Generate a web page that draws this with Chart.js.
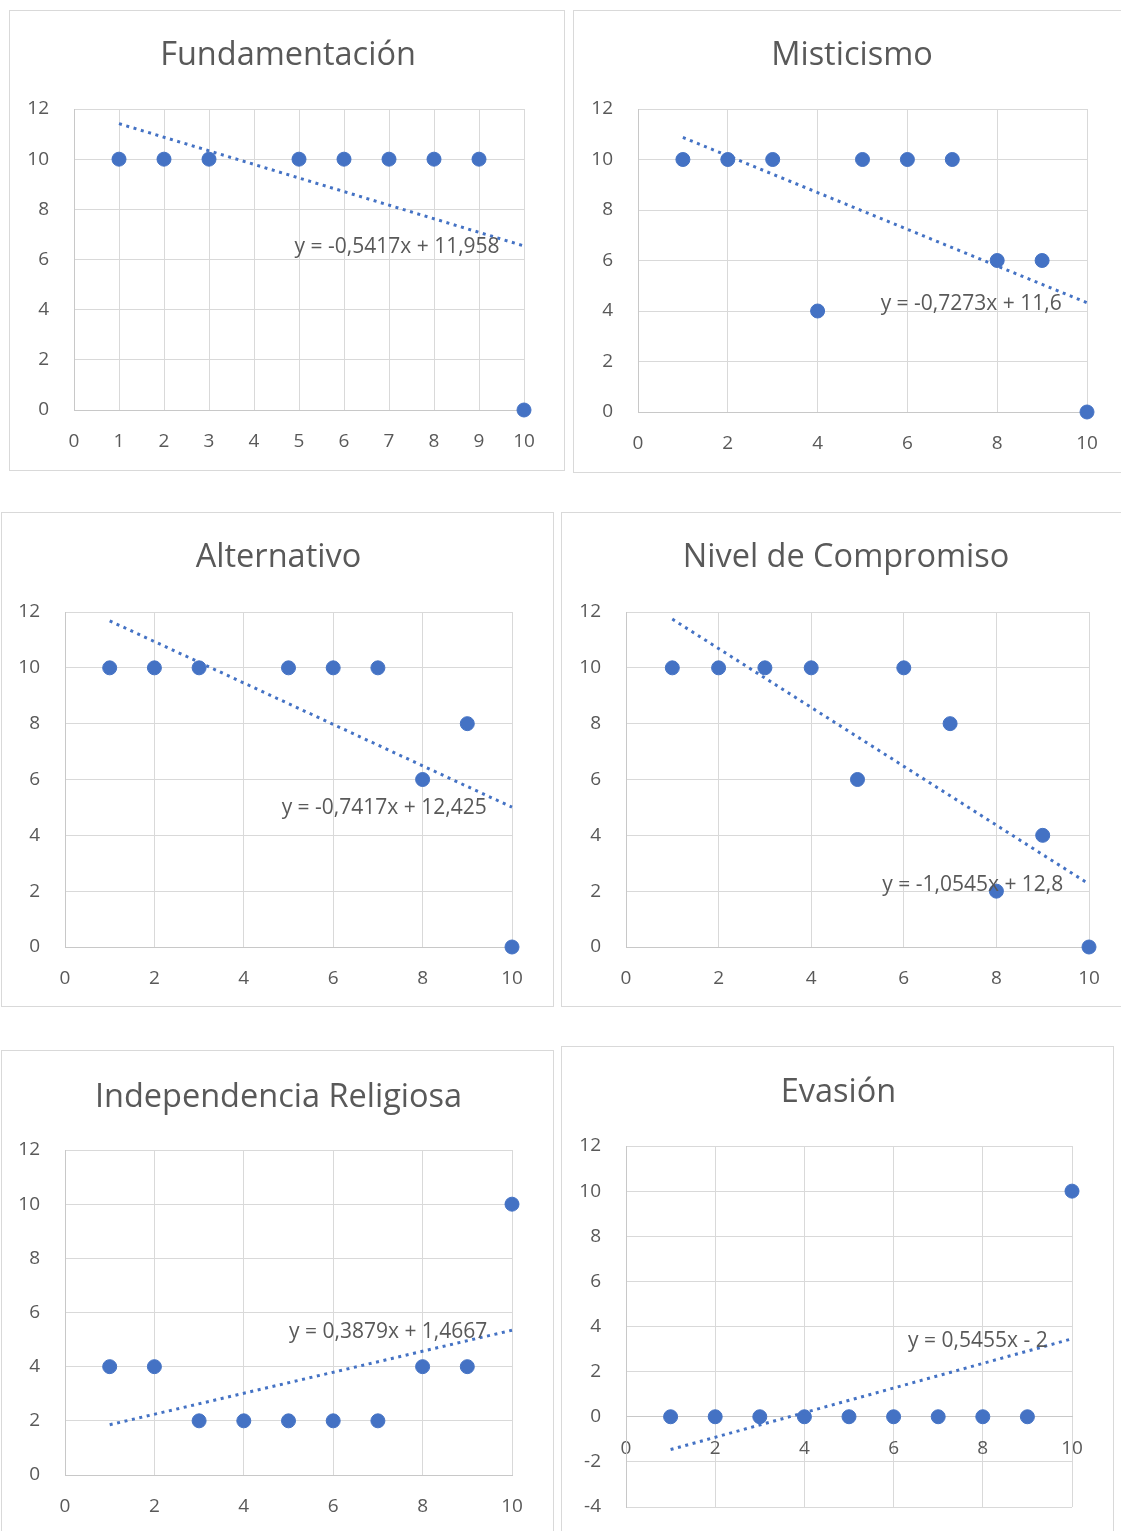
<!DOCTYPE html>
<html>
<head>
<meta charset="utf-8">
<script src="https://cdn.jsdelivr.net/npm/chart.js@4.4.0/dist/chart.umd.min.js"></script>
<style>
  body { margin: 0; background: #fff; width: 1121px; height: 1531px; overflow: hidden; position: relative; }
  .panel { position: absolute; border: 1px solid #d9d9d9; box-sizing: border-box; background: #fff; }
  .panel canvas { position: absolute; left: 0; top: 0; }
</style>
</head>
<body>
<script>
// ---- data ----
const titles = ['Fundamentación', 'Misticismo', 'Alternativo', 'Nivel de Compromiso', 'Independencia Religiosa', 'Evasión'];

const xFundamentacion = [1, 2, 3, 5, 6, 7, 8, 9, 10];
const yFundamentacion = [10, 10, 10, 10, 10, 10, 10, 10, 0];
const xMisticismo = [1, 2, 3, 4, 5, 6, 7, 8, 9, 10];
const yMisticismo = [10, 10, 10, 4, 10, 10, 10, 6, 6, 0];
const xAlternativo = [1, 2, 3, 5, 6, 7, 8, 9, 10];
const yAlternativo = [10, 10, 10, 10, 10, 10, 6, 8, 0];
const xCompromiso = [1, 2, 3, 4, 5, 6, 7, 8, 9, 10];
const yCompromiso = [10, 10, 10, 10, 6, 10, 8, 2, 4, 0];
const xIndependencia = [1, 2, 3, 4, 5, 6, 7, 8, 9, 10];
const yIndependencia = [4, 4, 2, 2, 2, 2, 2, 4, 4, 10];
const xEvasion = [1, 2, 3, 4, 5, 6, 7, 8, 9, 10];
const yEvasion = [0, 0, 0, 0, 0, 0, 0, 0, 0, 10];

// trendline equations as printed on the charts
const slopes = [-0.5417, -0.7273, -0.7417, -1.0545, 0.3879, 0.5455];
const intercepts = [11.958, 11.6, 12.425, 12.8, 1.4667, -2];
const equations = ['y = -0,5417x + 11,958', 'y = -0,7273x + 11,6', 'y = -0,7417x + 12,425',
                   'y = -1,0545x + 12,8', 'y = 0,3879x + 1,4667', 'y = 0,5455x - 2'];

// axes
const xSteps = [1, 2, 2, 2, 2, 2];
const yMins = [0, 0, 0, 0, 0, -4];
const yMaxs = [12, 12, 12, 12, 12, 12];

const xs = [xFundamentacion, xMisticismo, xAlternativo, xCompromiso, xIndependencia, xEvasion];
const ys = [yFundamentacion, yMisticismo, yAlternativo, yCompromiso, yIndependencia, yEvasion];

// ---- layout (page pixels) ----
const panels = [
  { l: 9,   t: 10,   w: 556, h: 461, x0: 73,  x10: 523,  yTop: 108,  yBot: 409,  titleY: 54.5,   eqAt: [7.18, 6.50] },
  { l: 573, t: 10,   w: 556, h: 463, x0: 637, x10: 1086, yTop: 108,  yBot: 411,  titleY: 54.5,   eqAt: [7.42, 4.28] },
  { l: 1,   t: 512,  w: 553, h: 495, x0: 64,  x10: 511,  yTop: 611,  yBot: 946,  titleY: 556.5,  eqAt: [7.14, 4.98] },
  { l: 561, t: 512,  w: 568, h: 495, x0: 625, x10: 1088, yTop: 611,  yBot: 946,  titleY: 556.5,  eqAt: [7.49, 2.22] },
  { l: 1,   t: 1050, w: 553, h: 486, x0: 64,  x10: 511,  yTop: 1149, yBot: 1474, titleY: 1096.5, eqAt: [7.23, 5.28] },
  { l: 561, t: 1046, w: 553, h: 500, x0: 625, x10: 1071, yTop: 1145, yBot: 1506, titleY: 1091.5, eqAt: [7.89, 3.37], axisAtZero: true }
];

const BLUE = '#4472C4';
const TEXT = '#595959';
const GRID = '#d9d9d9';
const FONT = '"Open Sans", "Noto Sans", sans-serif';
const TITLE_SIZE = 32.5;
const TICK_SIZE = 19;
const EQ_SIZE = 21;

const equationLabel = {
  id: 'equationLabel',
  afterDatasetsDraw(chart, args, opts) {
    const { ctx, scales: { x, y } } = chart;
    ctx.save();
    ctx.font = opts.size + 'px ' + FONT;
    ctx.fillStyle = TEXT;
    ctx.textAlign = 'center';
    ctx.textBaseline = 'middle';
    ctx.fillText(opts.text, x.getPixelForValue(opts.at[0]), y.getPixelForValue(opts.at[1]));
    ctx.restore();
  }
};

panels.forEach((p, i) => {
  const div = document.createElement('div');
  div.className = 'panel';
  div.style.left = p.l + 'px';
  div.style.top = p.t + 'px';
  div.style.width = p.w + 'px';
  div.style.height = p.h + 'px';
  const canvas = document.createElement('canvas');
  canvas.width = p.w;
  canvas.height = p.h;
  div.appendChild(canvas);
  document.body.appendChild(div);

  const titleLine = TITLE_SIZE * 1.2;
  const titleTop = (p.titleY - p.t) - titleLine / 2;
  const titleBottom = (p.yTop - p.t) - titleTop - titleLine;
  const yAxisWidth = p.x0 - p.l;
  const rightGap = p.l + p.w - p.x10;
  const xAxisHeight = p.t + p.h - p.yBot;

  const points = xs[i].map((x, k) => ({ x: x, y: ys[i][k] }));
  const xFirst = xs[i][0], xLast = xs[i][xs[i].length - 1];
  const trend = [
    { x: xFirst, y: slopes[i] * xFirst + intercepts[i] },
    { x: xLast, y: slopes[i] * xLast + intercepts[i] }
  ];

  new Chart(canvas, {
    type: 'scatter',
    data: {
      datasets: [
        {
          type: 'line',
          data: trend,
          borderColor: BLUE,
          borderWidth: 3,
          borderDash: [3, 4.6],
          pointRadius: 0,
          fill: false,
          clip: false,
          order: 0
        },
        {
          data: points,
          backgroundColor: BLUE,
          borderColor: BLUE,
          borderWidth: 1,
          pointRadius: 7,
          clip: false,
          order: 1
        }
      ]
    },
    options: {
      responsive: false,
      animation: false,
      devicePixelRatio: 1,
      layout: {
        padding: { left: 0, top: 0, right: 0, bottom: p.axisAtZero ? xAxisHeight : 0 }
      },
      plugins: {
        legend: { display: false },
        tooltip: { enabled: false },
        title: {
          display: true,
          text: titles[i],
          color: TEXT,
          font: { family: FONT, size: TITLE_SIZE, weight: 'normal' },
          padding: { top: titleTop, bottom: titleBottom }
        },
        equationLabel: { text: equations[i], at: p.eqAt, size: EQ_SIZE }
      },
      scales: {
        x: {
          type: 'linear',
          position: p.axisAtZero ? { y: 0 } : 'bottom',
          min: 0,
          max: 10,
          ticks: { stepSize: xSteps[i], color: TEXT, font: { family: FONT, size: TICK_SIZE }, padding: 20.5 },
          grid: { color: GRID, drawTicks: false },
          border: { color: '#c8c8c8' },
          afterFit(s) { s.height = p.axisAtZero ? 0 : xAxisHeight; }
        },
        y: {
          type: 'linear',
          min: yMins[i],
          max: yMaxs[i],
          ticks: { stepSize: 2, color: TEXT, font: { family: FONT, size: TICK_SIZE }, padding: 25 },
          grid: { color: GRID, drawTicks: false },
          border: { color: '#c8c8c8' },
          afterFit(s) { s.width = yAxisWidth; }
        },
        // empty right-hand axis: only reserves the right margin so the title stays centred on the box
        yRight: {
          type: 'linear',
          position: 'right',
          ticks: { display: false },
          grid: { display: false },
          border: { display: false },
          afterFit(s) { s.width = rightGap; }
        }
      }
    },
    plugins: [equationLabel]
  });
});
</script>
</body>
</html>
